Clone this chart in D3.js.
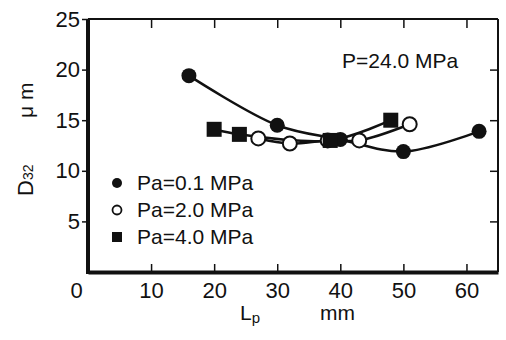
<!DOCTYPE html>
<html>
<head>
<meta charset="utf-8">
<script src="https://cdn.jsdelivr.net/npm/d3@7"></script>
<style>
	body { margin: 0; background: #fff; }
	svg text { font-family: "Liberation Sans", Arial, sans-serif; fill: #111; }
</style>
</head>
<body>
<script>
// data (Lp in mm, D32 in um)
var pa01 = [[16, 19.4], [30, 14.5], [40, 13.1], [50, 11.9], [62, 13.9]];
var pa20 = [[27, 13.2], [32, 12.7], [38, 13.0], [43, 13.0], [51, 14.6]];
var pa40 = [[20, 14.1], [24, 13.6], [38.4, 13.0], [48, 15.0]];
var xTicks = [0, 10, 20, 30, 40, 50, 60];
var yTicks = [5, 10, 15, 20, 25];
var legendNames = ["Pa=0.1 MPa", "Pa=2.0 MPa", "Pa=4.0 MPa"];

var w = 506, h = 340;
var svg = d3.select("body").append("svg")
	.attr("width", w)
	.attr("height", h);

var x = d3.scaleLinear().domain([0, 65]).range([88, 498]);
var y = d3.scaleLinear().domain([0, 25]).range([272, 19]);

// frame
svg.append("line").attr("x1", x(0)).attr("x2", x(65)).attr("y1", y(25)).attr("y2", y(25))
	.attr("stroke", "#111").attr("stroke-width", 2);
svg.append("line").attr("x1", x(65)).attr("x2", x(65)).attr("y1", y(25)).attr("y2", y(0))
	.attr("stroke", "#111").attr("stroke-width", 2);

// axes
var bottomAxis = svg.append("g")
	.attr("transform", "translate(0," + y(0) + ")")
	.call(d3.axisBottom(x).tickValues(xTicks).tickSize(0).tickPadding(10).tickFormat(d3.format("d")));
bottomAxis.select(".domain").attr("stroke", "#111").attr("stroke-width", 4);
bottomAxis.selectAll("text").style("font-size", "22px")
	.attr("dx", function(d){ return d === 0 ? -12 : 0; });

var topTicks = svg.append("g")
	.attr("transform", "translate(0," + y(25) + ")")
	.call(d3.axisBottom(x).tickValues(xTicks.slice(1)).tickSize(9).tickFormat(""));
topTicks.select(".domain").remove();
topTicks.selectAll("line").attr("stroke", "#111").attr("stroke-width", 1.5);

var bottomTicks = svg.append("g")
	.attr("transform", "translate(0," + y(0) + ")")
	.call(d3.axisTop(x).tickValues(xTicks.slice(1)).tickSize(8).tickFormat(""));
bottomTicks.select(".domain").remove();
bottomTicks.selectAll("line").attr("stroke", "#111").attr("stroke-width", 1.5);

var leftAxis = svg.append("g")
	.attr("transform", "translate(" + x(0) + ",0)")
	.call(d3.axisLeft(y).tickValues(yTicks).tickSize(6).tickPadding(2));
leftAxis.select(".domain").attr("stroke", "#111").attr("stroke-width", 4)
	.attr("d", "M0," + y(25) + "V" + (y(0) + 2));
leftAxis.selectAll("line").attr("stroke", "#111").attr("stroke-width", 1.5);
leftAxis.selectAll("text").style("font-size", "22px");

var rightTicks = svg.append("g")
	.attr("transform", "translate(" + x(65) + ",0)")
	.call(d3.axisLeft(y).tickValues([5, 10, 15, 20]).tickSize(8).tickFormat(""));
rightTicks.select(".domain").remove();
rightTicks.selectAll("line").attr("stroke", "#111").attr("stroke-width", 1.5);

// axis titles
var lp = svg.append("text").attr("x", 240).attr("y", 320).style("font-size", "21px");
lp.append("tspan").text("L");
lp.append("tspan").attr("dy", 3).style("font-size", "15px").text("p");
svg.append("text").attr("x", 320).attr("y", 320).style("font-size", "21px").text("mm");

var d32 = svg.append("text")
	.attr("transform", "translate(33,196) rotate(-90)")
	.style("font-size", "22px");
d32.append("tspan").text("D");
d32.append("tspan").style("font-size", "14px").text("32");
svg.append("text")
	.attr("transform", "translate(33,118) rotate(-90)")
	.style("font-size", "21px")
	.text("\u03bc m");

svg.append("text").attr("x", 342).attr("y", 68).style("font-size", "21px").text("P=24.0 MPa");

// curves
var line = d3.line()
	.x(function(d){ return x(d[0]); })
	.y(function(d){ return y(d[1]); })
	.curve(d3.curveCatmullRom.alpha(0.5));

[pa01, pa20, pa40].forEach(function(s){
	svg.append("path")
		.datum(s)
		.attr("d", line)
		.attr("fill", "none")
		.attr("stroke", "#111")
		.attr("stroke-width", 2.5);
});

svg.selectAll(".open")
	.data(pa20)
	.enter()
	.append("circle")
	.attr("class", "open")
	.attr("cx", function(d){ return x(d[0]); })
	.attr("cy", function(d){ return y(d[1]); })
	.attr("r", 7)
	.attr("fill", "#fff")
	.attr("stroke", "#111")
	.attr("stroke-width", 2);

svg.selectAll(".filled")
	.data(pa01)
	.enter()
	.append("circle")
	.attr("class", "filled")
	.attr("cx", function(d){ return x(d[0]); })
	.attr("cy", function(d){ return y(d[1]); })
	.attr("r", 7.5)
	.attr("fill", "#111");

svg.selectAll(".sq")
	.data(pa40)
	.enter()
	.append("rect")
	.attr("class", "sq")
	.attr("x", function(d){ return x(d[0]) - 7.5; })
	.attr("y", function(d){ return y(d[1]) - 7.5; })
	.attr("width", 15)
	.attr("height", 15)
	.attr("fill", "#111");

// legend
var legend = svg.selectAll(".legend")
	.data(legendNames)
	.enter()
	.append("g")
	.attr("class", "legend")
	.attr("transform", function(d, i){ return "translate(117," + (183 + i * 27) + ")"; });

legend.each(function(d, i){
	var g = d3.select(this);
	if (i === 0) {
		g.append("circle").attr("r", 5).attr("fill", "#111");
	} else if (i === 1) {
		g.append("circle").attr("r", 4.5).attr("fill", "#fff").attr("stroke", "#111").attr("stroke-width", 1.8);
	} else {
		g.append("rect").attr("x", -5).attr("y", -5).attr("width", 10).attr("height", 10).attr("fill", "#111");
	}
	g.append("text").attr("x", 20).attr("y", 7).style("font-size", "21px").text(d);
});
</script>
</body>
</html>
